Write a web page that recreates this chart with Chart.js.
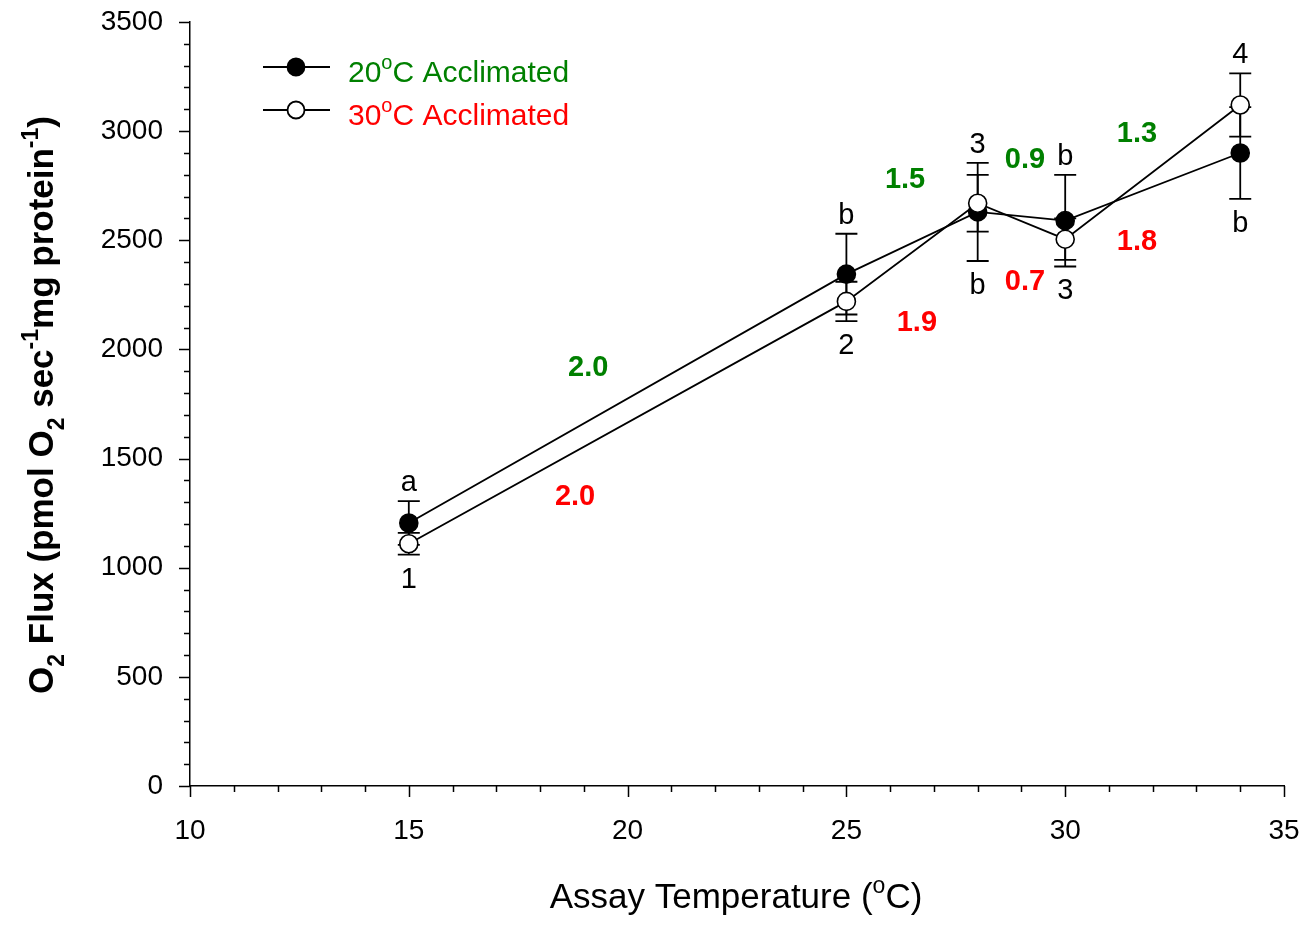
<!DOCTYPE html>
<html lang="en">
<head>
  <title>O2 Flux</title>
  <style>
    body {
      margin: 0;
      background: #fff;
    }
    #chart-container {
      width: 1314px;
      height: 933px;
    }
  </style>
  <script src="https://cdn.jsdelivr.net/npm/chart.js"></script>
</head>
<body>
<div id="chart-container">
  <canvas id="fluxChart" width="1314" height="933"></canvas>
</div>
<script>
// dati
var temps = [15, 25, 28, 30, 34];
var flux20 = [1205, 2345, 2630, 2590, 2900];
var err20 = [100, 185, 225, 210, 210];
var flux30 = [1110, 2220, 2670, 2505, 3120];
var err30 = [50, 90, 130, 95, 145];

// lettere di significatività sopra e sotto ogni temperatura
var lettersAbove = ['a', 'b', '3', 'b', '4'];
var lettersBelow = ['1', '2', 'b', '3', 'b'];

// valori Q10 (posizione in unità dei dati)
var q10Text20 = ['2.0', '1.5', '0.9', '1.3'];
var q10X20 = [19.1, 26.34, 29.08, 31.64];
var q10Y20 = [1915, 2776, 2868, 2987];
var q10Text30 = ['2.0', '1.9', '0.7', '1.8'];
var q10X30 = [18.8, 26.61, 29.08, 31.64];
var q10Y30 = [1324, 2121, 2309, 2492];

var xMajor = [10, 15, 20, 25, 30, 35];
var yMajor = [0, 500, 1000, 1500, 2000, 2500, 3000, 3500];

var GREEN = '#008000';
var RED = '#ff0000';
var FONT = '"Liberation Sans", Arial, sans-serif';

// testo con pedici / apici
function drawRich(ctx, segs, x, y, size, weight, color, align) {
  var small = Math.round(size * 0.65);
  var total = 0;
  segs.forEach(function(s) {
    ctx.font = weight + ' ' + (s.m ? small : size) + 'px ' + FONT;
    s.w = ctx.measureText(s.t).width;
    total += s.w;
  });
  var cx = align === 'center' ? x - total / 2 : x;
  ctx.fillStyle = color;
  ctx.textAlign = 'left';
  ctx.textBaseline = 'alphabetic';
  segs.forEach(function(s) {
    ctx.font = weight + ' ' + (s.m ? small : size) + 'px ' + FONT;
    var dy = 0;
    if (s.m === 'sub') dy = size * 0.3;
    if (s.m === 'sup') dy = -size * 0.42;
    ctx.fillText(s.t, cx, y + dy);
    cx += s.w;
  });
}

var errorBars = {
  id: 'errorBars',
  beforeDatasetsDraw: function(chart) {
    var ctx = chart.ctx;
    var xs = chart.scales.x, ys = chart.scales.y;
    ctx.save();
    ctx.strokeStyle = '#000';
    ctx.lineWidth = 1.8;
    [[flux20, err20], [flux30, err30]].forEach(function(set) {
      for (var i = 0; i < temps.length; i++) {
        var px = xs.getPixelForValue(temps[i]);
        var top = ys.getPixelForValue(set[0][i] + set[1][i]);
        var bot = ys.getPixelForValue(set[0][i] - set[1][i]);
        ctx.beginPath();
        ctx.moveTo(px, top); ctx.lineTo(px, bot);
        ctx.moveTo(px - 11, top); ctx.lineTo(px + 11, top);
        ctx.moveTo(px - 11, bot); ctx.lineTo(px + 11, bot);
        ctx.stroke();
      }
    });
    ctx.restore();
  },
  afterDraw: function(chart) {
    var ctx = chart.ctx;
    var xs = chart.scales.x, ys = chart.scales.y;
    var area = chart.chartArea;
    ctx.save();

    // tacche degli assi (maggiori e minori)
    ctx.strokeStyle = '#000';
    ctx.lineWidth = 1.5;
    ctx.beginPath();
    for (var t = 10; t <= 35; t++) {
      var len = xMajor.indexOf(t) >= 0 ? 11 : 6;
      var px = Math.round(xs.getPixelForValue(t)) + 0.5;
      ctx.moveTo(px, area.bottom); ctx.lineTo(px, area.bottom + len);
    }
    for (var v = 0; v <= 3500; v += 100) {
      var l = yMajor.indexOf(v) >= 0 ? 11 : 6;
      var py = Math.round(ys.getPixelForValue(v)) + 0.5;
      ctx.moveTo(area.left, py); ctx.lineTo(area.left - l, py);
    }
    ctx.stroke();

    // lettere sopra / sotto
    ctx.font = '29px ' + FONT;
    ctx.fillStyle = '#000';
    ctx.textAlign = 'center';
    ctx.textBaseline = 'middle';
    for (var i = 0; i < temps.length; i++) {
      var x = xs.getPixelForValue(temps[i]);
      var hi = Math.max(flux20[i] + err20[i], flux30[i] + err30[i]);
      var lo = Math.min(flux20[i] - err20[i], flux30[i] - err30[i]);
      ctx.fillText(lettersAbove[i], x, ys.getPixelForValue(hi) - 18);
      ctx.fillText(lettersBelow[i], x, ys.getPixelForValue(lo) + 25);
    }

    // valori Q10
    ctx.font = 'bold 29px ' + FONT;
    ctx.fillStyle = GREEN;
    for (var j = 0; j < q10Text20.length; j++) {
      ctx.fillText(q10Text20[j], xs.getPixelForValue(q10X20[j]), ys.getPixelForValue(q10Y20[j]));
    }
    ctx.fillStyle = RED;
    for (var k = 0; k < q10Text30.length; k++) {
      ctx.fillText(q10Text30[k], xs.getPixelForValue(q10X30[k]), ys.getPixelForValue(q10Y30[k]));
    }

    // legenda
    var rows = [
      { y: 67, fill: '#000', col: GREEN, num: '20' },
      { y: 110, fill: '#fff', col: RED, num: '30' }
    ];
    rows.forEach(function(r) {
      ctx.strokeStyle = '#000';
      ctx.lineWidth = 1.8;
      ctx.beginPath();
      ctx.moveTo(263, r.y); ctx.lineTo(330, r.y);
      ctx.stroke();
      ctx.beginPath();
      ctx.arc(296, r.y, 8.5, 0, Math.PI * 2);
      ctx.fillStyle = r.fill;
      ctx.fill();
      ctx.stroke();
      drawRich(ctx, [{ t: r.num }, { t: 'o', m: 'sup' }, { t: 'C Acclimated' }],
        348, r.y + 15, 30, 'normal', r.col, 'left');
    });

    // titolo asse x
    drawRich(ctx, [{ t: 'Assay Temperature (' }, { t: 'o', m: 'sup' }, { t: 'C)' }],
      736, 908, 35, 'normal', '#000', 'center');

    // titolo asse y (ruotato)
    ctx.translate(53, 405);
    ctx.rotate(-Math.PI / 2);
    drawRich(ctx, [
      { t: 'O' }, { t: '2', m: 'sub' }, { t: ' Flux (pmol O' }, { t: '2', m: 'sub' },
      { t: ' sec' }, { t: '-1', m: 'sup' }, { t: 'mg protein' }, { t: '-1', m: 'sup' }, { t: ')' }
    ], 0, 0, 35, 'bold', '#000', 'center');

    ctx.restore();
  }
};

function toPoints(xs, ys) {
  var out = [];
  for (var i = 0; i < xs.length; i++) out.push({ x: xs[i], y: ys[i] });
  return out;
}

var ctx = document.getElementById('fluxChart').getContext('2d');
var fluxChart = new Chart(ctx, {
  type: 'scatter',
  data: {
    datasets: [{
      label: '20°C Acclimated',
      data: toPoints(temps, flux20),
      showLine: true,
      borderColor: '#000',
      borderWidth: 1.8,
      pointRadius: 9,
      pointBackgroundColor: '#000',
      pointBorderColor: '#000',
      pointBorderWidth: 1.6,
      order: 1,
      clip: false
    }, {
      label: '30°C Acclimated',
      data: toPoints(temps, flux30),
      showLine: true,
      borderColor: '#000',
      borderWidth: 1.8,
      pointRadius: 9,
      pointBackgroundColor: '#fff',
      pointBorderColor: '#000',
      pointBorderWidth: 1.6,
      order: 0,
      clip: false
    }]
  },
  options: {
    responsive: false,
    animation: false,
    layout: { padding: { top: 22, right: 30, left: 0, bottom: 0 } },
    plugins: {
      legend: { display: false },
      tooltip: { enabled: false }
    },
    scales: {
      x: {
        type: 'linear',
        min: 10,
        max: 35,
        afterFit: function(scale) {
          scale.height = 147;
          scale.paddingLeft = 0;
          scale.paddingRight = 0;
        },
        border: { display: true, color: '#000', width: 1.5 },
        grid: { display: false, drawTicks: false },
        ticks: {
          stepSize: 5,
          padding: 28,
          color: '#000',
          font: { family: FONT, size: 28 },
          maxRotation: 0,
          callback: function(value) { return String(value); }
        }
      },
      y: {
        min: 0,
        max: 3500,
        afterFit: function(scale) {
          scale.width = 190;
          scale.paddingTop = 0;
          scale.paddingBottom = 0;
        },
        border: { display: true, color: '#000', width: 1.5 },
        grid: { display: false, drawTicks: false },
        ticks: {
          stepSize: 500,
          padding: 27,
          color: '#000',
          font: { family: FONT, size: 28 },
          callback: function(value) { return String(value); }
        }
      }
    }
  },
  plugins: [errorBars]
});
</script>
</body>
</html>
